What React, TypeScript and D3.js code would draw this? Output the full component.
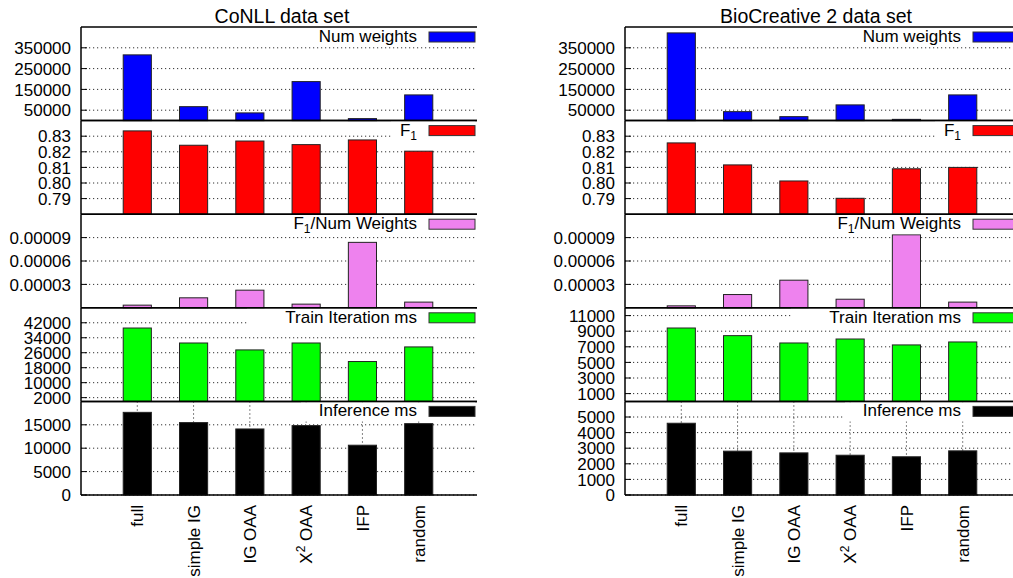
import React from "react";
import * as d3 from "d3";

// categories on the x axis
const categories = ["full", "simple IG", "IG OAA", "X2 OAA", "IFP", "random"];

// CoNLL data set
const conllNumWeights = [316000, 67000, 37000, 187500, 9600, 123500];
const conllF1 = [0.8334, 0.8242, 0.8269, 0.8246, 0.8276, 0.8204];
const conllF1PerWeight = [0.0000034, 0.0000128, 0.0000226, 0.0000047, 0.0000839, 0.0000073];
const conllTrainMs = [39200, 31200, 27500, 31200, 21300, 29100];
const conllInferenceMs = [17660, 15470, 14110, 14830, 10640, 15250];

// BioCreative 2 data set
const bioNumWeights = [421600, 43000, 19000, 75500, 6000, 123500];
const bioF1 = [0.8257, 0.8116, 0.8013, 0.7902, 0.8091, 0.81];
const bioF1PerWeight = [0.0000025, 0.000017, 0.0000354, 0.000011, 0.0000936, 0.0000073];
const bioTrainMs = [9410, 8430, 7490, 8000, 7240, 7620];
const bioInferenceMs = [4600, 2810, 2700, 2550, 2450, 2830];

// tick labels
const numWeightTicks = [50000, 150000, 250000, 350000];
const f1Ticks = [0.79, 0.8, 0.81, 0.82, 0.83];
const ratioTicks = [0.00003, 0.00006, 0.00009];
const conllTrainTicks = [2000, 10000, 18000, 26000, 34000, 42000];
const bioTrainTicks = [1000, 3000, 5000, 7000, 9000, 11000];
const conllInferenceTicks = [0, 5000, 10000, 15000];
const bioInferenceTicks = [0, 1000, 2000, 3000, 4000, 5000];

const font = "'Liberation Sans', Arial, Helvetica, sans-serif";
const plotW = 394;
const top0 = 27;
const panelH = 93.6;

type Panel = {
  label: string;
  color: string;
  values: number[];
  domain: [number, number];
  ticks: number[];
  fmt: (v: number) => string;
};

const intFmt = (v: number) => String(v);

const conllPanels: Panel[] = [
  { label: "Num weights", color: "#0000ff", values: conllNumWeights, domain: [0, 450000], ticks: numWeightTicks, fmt: intFmt },
  { label: "F1", color: "#ff0000", values: conllF1, domain: [0.78, 0.84], ticks: f1Ticks, fmt: d3.format(".2f") },
  { label: "F1/Num Weights", color: "#ee82ee", values: conllF1PerWeight, domain: [0, 0.00012], ticks: ratioTicks, fmt: d3.format(".5f") },
  { label: "Train Iteration ms", color: "#00ff00", values: conllTrainMs, domain: [0, 50000], ticks: conllTrainTicks, fmt: intFmt },
  { label: "Inference ms", color: "#000000", values: conllInferenceMs, domain: [0, 20000], ticks: conllInferenceTicks, fmt: intFmt },
];

const bioPanels: Panel[] = [
  { label: "Num weights", color: "#0000ff", values: bioNumWeights, domain: [0, 450000], ticks: numWeightTicks, fmt: intFmt },
  { label: "F1", color: "#ff0000", values: bioF1, domain: [0.78, 0.84], ticks: f1Ticks, fmt: d3.format(".2f") },
  { label: "F1/Num Weights", color: "#ee82ee", values: bioF1PerWeight, domain: [0, 0.00012], ticks: ratioTicks, fmt: d3.format(".5f") },
  { label: "Train Iteration ms", color: "#00ff00", values: bioTrainMs, domain: [0, 12000], ticks: bioTrainTicks, fmt: intFmt },
  { label: "Inference ms", color: "#000000", values: bioInferenceMs, domain: [0, 6000], ticks: bioInferenceTicks, fmt: intFmt },
];

const charts = [
  { title: "CoNLL data set", left: 81, titleX: 282, panels: conllPanels },
  { title: "BioCreative 2 data set", left: 625, titleX: 816, panels: bioPanels },
];

// F1 gets a subscript 1
const LegendText = ({ label }: { label: string }) => {
  if (label.startsWith("F1")) {
    const rest = label.slice(2);
    return (
      <>
        <tspan>F</tspan>
        <tspan dy={4} fontSize={12}>1</tspan>
        {rest && <tspan dy={-4}>{rest}</tspan>}
      </>
    );
  }
  return <tspan>{label}</tspan>;
};

const CategoryText = ({ name }: { name: string }) => {
  if (name.startsWith("X2")) {
    return (
      <>
        <tspan>X</tspan>
        <tspan dy={-7} fontSize={12}>2</tspan>
        <tspan dy={7}>{name.slice(2)}</tspan>
      </>
    );
  }
  return <tspan>{name}</tspan>;
};

const Chart = ({ title, left, titleX, panels }: (typeof charts)[number]) => {
  const right = left + plotW;
  const x = d3.scaleLinear().domain([-1, 6]).range([left, right]);
  const barW = x(0.25) - x(-0.25);
  const bottom = top0 + panelH * panels.length;

  return (
    <g>
      <text x={titleX} y={23} textAnchor="middle" fontSize={19.5} fill="#000">
        {title}
      </text>
      {panels.map((p, pi) => {
        const top = top0 + pi * panelH;
        const y = d3.scaleLinear().domain(p.domain).range([top + panelH, top]);
        const isLast = pi === panels.length - 1;
        const sampleX = right - 46;
        const boxX = sampleX - (p.label.length * 9 + 20);
        return (
          <g key={p.label}>
            {/* horizontal grid */}
            {p.ticks.map((t) => (
              <line key={t} x1={left} x2={right} y1={y(t)} y2={y(t)} stroke="#333" strokeWidth={1} strokeDasharray="1.2 2.8" />
            ))}
            {/* vertical grid on bottom panel */}
            {isLast &&
              categories.map((c, i) => (
                <line key={c} x1={x(i)} x2={x(i)} y1={top} y2={top + panelH} stroke="#333" strokeWidth={1} strokeDasharray="1.2 2.8" />
              ))}
            {/* bars */}
            {p.values.map((v, i) => (
              <rect
                key={i}
                x={x(i) - barW / 2}
                y={y(v)}
                width={barW}
                height={y(p.domain[0]) - y(v)}
                fill={p.color}
                stroke="#222"
                strokeWidth={1}
              />
            ))}
            {/* legend */}
            <rect x={boxX} y={top + 1} width={right - boxX} height={19} fill="#fff" />
            <rect x={sampleX} y={top + 5} width={46} height={10} fill={p.color} stroke="#333" strokeWidth={1} />
            <text x={sampleX - 12} y={top + 15} textAnchor="end" fontSize={17} fill="#000">
              <LegendText label={p.label} />
            </text>
            {/* y ticks */}
            {p.ticks.map((t) => (
              <g key={"t" + t}>
                <line x1={left} x2={left + 6} y1={y(t)} y2={y(t)} stroke="#000" strokeWidth={1} />
                <text x={left - 10} y={y(t)} dy="0.36em" textAnchor="end" fontSize={17} fill="#000">
                  {p.fmt(t)}
                </text>
              </g>
            ))}
            {/* panel border */}
            <line x1={left} x2={right + 2} y1={top} y2={top} stroke="#000" strokeWidth={1.5} />
            <line x1={left} x2={right + 2} y1={top + panelH} y2={top + panelH} stroke="#000" strokeWidth={1.5} />
            <line x1={left} x2={left} y1={top} y2={top + panelH} stroke="#000" strokeWidth={1.5} />
          </g>
        );
      })}
      {/* category labels */}
      {categories.map((c, i) => (
        <text
          key={c}
          transform={`translate(${x(i)},${bottom + 10}) rotate(-90)`}
          dy="0.36em"
          textAnchor="end"
          fontSize={17}
          fill="#000"
        >
          <CategoryText name={c} />
        </text>
      ))}
    </g>
  );
};

export default function App() {
  return (
    <div style={{ position: "absolute", left: 0, top: 0 }}>
      <svg width={1013} height={578} style={{ display: "block", background: "#fff", fontFamily: font }}>
        <rect width={1013} height={578} fill="#fff" />
        {charts.map((c) => (
          <Chart key={c.title} {...c} />
        ))}
      </svg>
    </div>
  );
}
